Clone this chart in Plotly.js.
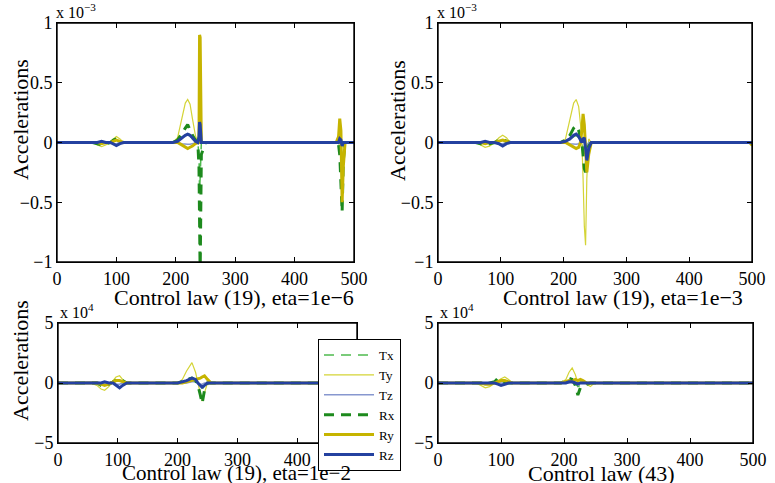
<!DOCTYPE html>
<html>
<head>
<meta charset="utf-8">
<script src="https://cdn.plot.ly/plotly-3.0.1.min.js"></script>
<style>
  html, body { margin: 0; padding: 0; background: #fff; }
  #chart { width: 775px; height: 483px; }
</style>
</head>
<body>
<div id="chart"></div>
<script>
// Acceleration components (Tx, Ty, Tz, Rx, Ry, Rz) for four control-law runs.
const seriesNames = ['Tx', 'Ty', 'Tz', 'Rx', 'Ry', 'Rz'];

// Run 1: control law (19), eta=1e-6   (values in units of 1e-3)
const tA  = [0, 60, 68, 75, 82, 90, 95, 100, 106, 112, 120, 195, 203, 210, 216, 220, 224, 228, 233, 237, 239, 240, 241, 243, 250, 470, 474, 476, 478, 480, 482, 485, 490, 500];
const txA = [0, 0, 0, -0.01, 0, 0, 0.01, 0.02, 0.01, 0, 0,   0, 0.01, 0.04, 0.06, 0.08, 0.06, 0.03, 0.01, 0, -0.1, -0.4, -0.3, 0, 0,   0, 0, -0.05, -0.15, -0.2, -0.05, 0, 0, 0];
const tyA = [0, 0, -0.02, -0.035, -0.02, 0, 0.03, 0.05, 0.03, 0, 0,   0, 0.04, 0.2, 0.33, 0.36, 0.32, 0.2, 0.06, 0, 0, 0, 0, 0, 0,   0, 0.05, 0.12, -0.2, -0.4, -0.1, 0, 0, 0];
const tzA = [0, 0, 0, 0.01, 0, 0, -0.01, -0.01, 0, 0, 0,   0, 0, -0.01, -0.015, -0.015, -0.015, -0.01, 0, 0, 0.02, 0.05, 0.03, 0, 0,   0, 0, 0.01, -0.01, -0.02, 0, 0, 0, 0];
const rxA = [0, 0, -0.01, -0.02, -0.01, 0, 0.02, 0.03, 0.015, 0, 0,   0, 0.02, 0.08, 0.12, 0.15, 0.1, 0.06, 0.02, 0, -0.2, -1.1, -1.1, -0.1, 0,   0, -0.02, -0.1, -0.35, -0.58, -0.15, 0, 0, 0];
const ryA = [0, 0, 0, -0.01, 0, 0, 0.01, 0.02, 0.01, 0, 0,   0, 0, -0.02, -0.04, -0.05, -0.04, -0.03, -0.01, 0, 0, 0.9, 0.88, 0, 0,   0, 0.05, 0.2, 0.1, -0.5, -0.2, 0, 0, 0];
const rzA = [0, 0, 0, 0.01, 0, 0, -0.01, -0.025, -0.01, 0, 0,   0, 0.01, 0.04, 0.06, 0.07, 0.06, 0.04, 0.01, 0, 0.05, 0.17, 0.15, 0, 0,   0, 0, 0.03, 0.02, -0.03, 0, 0, 0, 0];

// Run 2: control law (19), eta=1e-3   (values in units of 1e-3)
const tB  = [0, 60, 68, 75, 82, 90, 97, 103, 109, 115, 120, 195, 203, 210, 216, 220, 224, 227, 229, 231, 233, 235, 237, 240, 244, 250, 496, 500];
const txB = [0, 0, 0, -0.01, 0, 0, 0.01, 0.02, 0, 0, 0,   0, 0, 0.03, 0.05, 0.06, 0.04, 0.02, 0, -0.05, -0.1, -0.12, -0.05, 0, 0, 0,   0, -0.01];
const tyB = [0, 0, -0.02, -0.04, -0.03, 0, 0.04, 0.06, 0.04, 0, 0,   0, 0.03, 0.2, 0.33, 0.36, 0.3, 0.15, 0.02, -0.3, -0.7, -0.86, -0.3, 0.03, 0, 0,   0, -0.03];
const tzB = [0, 0, 0, 0, 0, 0, -0.01, -0.01, 0, 0, 0,   0, 0, -0.01, -0.015, -0.015, -0.01, 0, 0.01, 0.02, 0.01, -0.02, -0.03, 0, 0, 0,   0, 0];
const rxB = [0, 0, -0.01, -0.02, -0.01, 0, 0.02, 0.03, 0.01, 0, 0,   0, 0.02, 0.06, 0.12, 0.14, 0.1, 0.05, 0, -0.1, -0.22, -0.25, -0.12, -0.03, 0, 0,   0, -0.02];
const ryB = [0, 0, 0, -0.01, 0, 0, 0.01, 0.02, 0.01, 0, 0,   0, 0, -0.02, -0.04, -0.05, -0.04, 0, 0.1, 0.24, 0.15, -0.1, -0.25, -0.1, 0, 0,   0, -0.02];
const rzB = [0, 0, 0, 0.01, 0, 0, -0.01, -0.03, -0.01, 0, 0,   0, 0.01, 0.03, 0.06, 0.07, 0.05, 0.02, 0, 0.03, 0.04, -0.05, -0.15, -0.05, 0, 0,   0, 0];

// Run 3: control law (19), eta=1e-2   (values in units of 1e4)
const tC  = [0, 55, 65, 72, 78, 85, 92, 97, 103, 108, 115, 200, 208, 215, 224, 230, 234, 238, 241, 245, 250, 256, 500];
const txC = [0, 0, 0, -0.1, -0.1, 0, 0.1, 0.2, 0.2, 0.1, 0,   0, 0, 0.1, 0.3, 0.1, 0, -0.3, -0.6, -0.2, 0, 0,   0];
const tyC = [0, 0, -0.2, -0.5, -0.6, -0.3, 0.2, 0.5, 0.6, 0.3, 0,   0, 0.3, 1.0, 1.7, 0.9, 0, -0.9, -1.5, -0.8, 0, 0,   0];
const tzC = [0, 0.1, 0.1, 0, 0, 0, 0, -0.1, -0.1, 0, 0,   0, 0, 0, 0.1, 0.1, 0, -0.1, -0.1, 0, 0, 0,   0];
const rxC = [0, 0, 0, -0.2, -0.3, -0.1, 0.1, 0.3, 0.4, 0.2, 0,   0, 0.1, 0.3, 0.4, 0.2, -0.2, -1.0, -1.7, -0.6, 0, 0,   0];
const ryC = [0, 0, 0, -0.1, -0.2, -0.1, 0.1, 0.2, 0.2, 0.1, 0,   0, 0, 0.1, 0.2, 0.3, 0.3, 0.4, 0.5, 0.6, 0.3, 0,   0];
const rzC = [0, 0, 0, 0, 0.1, 0, 0, -0.2, -0.4, -0.2, 0,   0, 0.1, 0.2, 0.4, 0.3, 0, -0.2, -0.35, -0.2, 0, 0,   0];

// Run 4: control law (43)   (values in units of 1e4)
const tD  = [0, 60, 68, 75, 82, 90, 95, 100, 106, 112, 118, 195, 203, 208, 213, 218, 222, 226, 230, 236, 242, 248, 500];
const txD = [0, 0, 0, 0, 0, 0, 0.2, 0.1, 0, 0, 0,   0, 0.1, 0.2, 0.1, 0, -0.3, -0.2, 0, 0, 0, 0,   0];
const tyD = [0, 0, -0.2, -0.4, -0.3, 0, 0.2, 0.35, 0.5, 0.3, 0,   0, 0.3, 0.9, 1.25, 0.7, 0, 0.1, 0.2, -0.1, -0.3, 0,   0];
const tzD = [0, 0, 0, 0, 0, 0, 0, -0.05, 0, 0, 0,   0, 0, 0, 0.05, 0, 0, 0, 0, 0, 0, 0,   0];
const rxD = [0, 0, 0, -0.1, 0, 0.1, 0.4, 0.3, 0.1, 0, 0,   0, 0.2, 0.4, 0.3, -0.2, -1.0, -0.4, -0.3, -0.1, 0, 0,   0];
const ryD = [0, 0, 0, -0.1, -0.1, 0, 0.1, 0.2, 0.2, 0.1, 0,   0, 0.1, 0.2, 0.1, 0.3, 0.2, 0.3, 0.2, 0, 0, 0,   0];
const rzD = [0, 0, 0, 0, 0, 0, -0.1, -0.2, -0.1, 0, 0,   0, 0, 0.1, 0.1, 0, -0.1, 0, 0, 0, 0, 0,   0];

const xTickVals = [0, 100, 200, 300, 400, 500];
const yTickTop = [-1, -0.5, 0, 0.5, 1];
const yTextTop = ['\u22121', '\u22120.5', '0', '0.5', '1'];
const yTickBot = [-5, 0, 5];
const yTextBot = ['\u22125', '0', '5'];

const panelTitles = ['Control law (19), eta=1e\u22126', 'Control law (19), eta=1e\u22123',
                     'Control law (19), eta=1e\u22122', 'Control law (43)'];

// Line style per component
const lineStyles = [
  { color: '#4fba4f', width: 1.5, dash: '10px,7px' },
  { color: '#d4d436', width: 1.2, dash: 'solid' },
  { color: '#8797cf', width: 1.5, dash: 'solid' },
  { color: '#1d8a1d', width: 3,   dash: '10px,7px' },
  { color: '#c6b400', width: 3,   dash: 'solid' },
  { color: '#2441a0', width: 3,   dash: 'solid' }
];

const panels = [
  { xa: 'x',  ya: 'y',  t: tA, vals: [txA, tyA, tzA, rxA, ryA, rzA] },
  { xa: 'x2', ya: 'y2', t: tB, vals: [txB, tyB, tzB, rxB, ryB, rzB] },
  { xa: 'x3', ya: 'y3', t: tC, vals: [txC, tyC, tzC, rxC, ryC, rzC] },
  { xa: 'x4', ya: 'y4', t: tD, vals: [txD, tyD, tzD, rxD, ryD, rzD] }
];

const data = [];
panels.forEach((p, pi) => {
  p.vals.forEach((v, si) => {
    data.push({
      type: 'scatter', mode: 'lines',
      x: p.t, y: v,
      xaxis: p.xa, yaxis: p.ya,
      name: seriesNames[si],
      legendgroup: seriesNames[si],
      showlegend: pi === 0,
      line: Object.assign({ shape: 'linear' }, lineStyles[si]),
      hoverinfo: 'skip'
    });
  });
});

const W = 775, H = 483;
const serif = '"Liberation Serif", "Times New Roman", "DejaVu Serif", serif';
const px = v => v / W;
const py = v => 1 - v / H;

function xAxis(d0, d1, anchor) {
  return {
    domain: [px(d0), px(d1)], anchor: anchor, range: [0, 500],
    tickmode: 'array', tickvals: xTickVals,
    ticks: 'inside', ticklen: 5, tickcolor: '#000', tickwidth: 1,
    showline: true, linecolor: '#000', linewidth: 1, mirror: 'ticks',
    showgrid: false, zeroline: false,
    tickfont: { family: serif, size: 18, color: '#000' }
  };
}
function yAxis(d0, d1, anchor, vals, txt, lo, hi) {
  return {
    domain: [py(d1), py(d0)], anchor: anchor, range: [lo, hi],
    tickmode: 'array', tickvals: vals, ticktext: txt,
    ticks: 'inside', ticklen: 5, tickcolor: '#000', tickwidth: 1,
    showline: true, linecolor: '#000', linewidth: 1, mirror: 'ticks',
    showgrid: false, zeroline: false,
    tickfont: { family: serif, size: 18, color: '#000' }
  };
}

// Frame around each subplot
function frame(xa, ya) {
  return {
    type: 'rect', xref: xa + ' domain', yref: ya + ' domain',
    x0: 0, x1: 1, y0: 0, y1: 1,
    line: { color: '#000', width: 1.4 }, fillcolor: 'rgba(0,0,0,0)', layer: 'above'
  };
}

function label(text, x, y, size, angle) {
  return {
    xref: 'paper', yref: 'paper', x: px(x), y: py(y),
    xanchor: 'center', yanchor: 'middle', showarrow: false,
    text: text, textangle: angle || 0,
    font: { family: serif, size: size, color: '#000' }
  };
}
function multiplier(text, x, y) {
  return {
    xref: 'paper', yref: 'paper', x: px(x), y: py(y),
    xanchor: 'left', yanchor: 'middle', showarrow: false,
    text: text, font: { family: serif, size: 16, color: '#000' }
  };
}

const layout = {
  width: W, height: H,
  margin: { l: 0, r: 0, t: 0, b: 0 },
  paper_bgcolor: '#fff', plot_bgcolor: '#fff',
  font: { family: serif, color: '#000' },
  showlegend: true,
  xaxis:  xAxis(57, 354, 'y'),
  yaxis:  yAxis(23, 262, 'x', yTickTop, yTextTop, -1, 1),
  xaxis2: xAxis(438, 752, 'y2'),
  yaxis2: yAxis(23, 262, 'x2', yTickTop, yTextTop, -1, 1),
  xaxis3: xAxis(58, 357, 'y3'),
  yaxis3: yAxis(323, 443, 'x3', yTickBot, yTextBot, -5, 5),
  xaxis4: xAxis(438, 753, 'y4'),
  yaxis4: yAxis(323, 443, 'x4', yTickBot, yTextBot, -5, 5),
  shapes: [frame('x', 'y'), frame('x2', 'y2'), frame('x3', 'y3'), frame('x4', 'y4')],
  legend: {
    x: px(318), y: py(339), xanchor: 'left', yanchor: 'top',
    bgcolor: '#fff', bordercolor: '#000', borderwidth: 1,
    font: { family: serif, size: 13, color: '#000' },
    tracegroupgap: 0, traceorder: 'normal', itemwidth: 50
  },
  annotations: [
    label(panelTitles[0], 234, 297, 22),
    label(panelTitles[1], 623, 297, 22),
    label(panelTitles[2], 236, 473, 21),
    label(panelTitles[3], 601, 473, 22),
    label('Accelerations', 20, 120, 22, -90),
    label('Accelerations', 397, 120, 22, -90),
    label('Accelerations', 20, 361, 22, -90),
    multiplier('x 10<sup>\u22123</sup>', 54, 11),
    multiplier('x 10<sup>\u22123</sup>', 435, 11),
    multiplier('x 10<sup>4</sup>', 58, 311),
    multiplier('x 10<sup>4</sup>', 438, 311)
  ]
};

Plotly.newPlot('chart', data, layout, { staticPlot: true, displayModeBar: false });
</script>
</body>
</html>
